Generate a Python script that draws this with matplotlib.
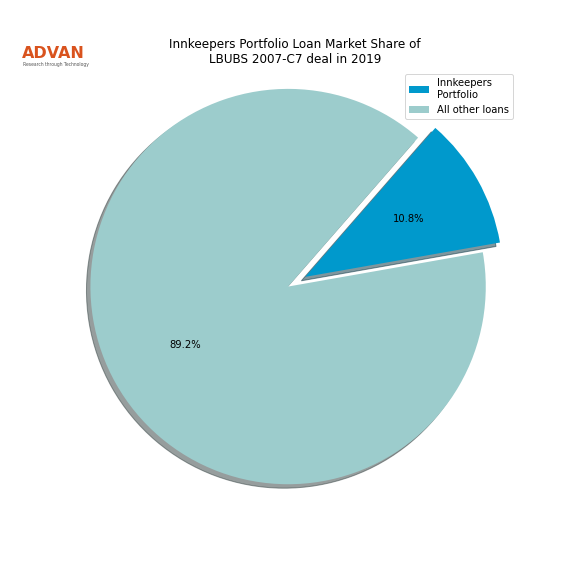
import matplotlib.pyplot as plt

labels = ["Innkeepers\nPortfolio", "All other loans"]
shares = [10.8, 89.2]
colors = ["#0099cc", "#9ccccc"]
explode = [0.1, 0]

fig, ax = plt.subplots(figsize=(8, 8), dpi=72)
wedges, texts, autotexts = ax.pie(shares, explode=explode, colors=colors,
                                  autopct="%1.1f%%", shadow=True, startangle=10)
ax.set_title("Innkeepers Portfolio Loan Market Share of\nLBUBS 2007-C7 deal in 2019", fontsize=12)
ax.axis("equal")

# logo
fig.text(0.038, 0.9, "ADVAN", color="#d9531e", fontsize=16, fontweight="semibold")
fig.text(0.04, 0.886, "Research through Technology", color="#555555", fontsize=4.5)

plt.subplots_adjust(left=0.135, right=0.89, top=0.88, bottom=0.125)
fig.legend(wedges, labels, loc="upper right", fontsize=10, bbox_to_anchor=(0.9, 0.88))
plt.savefig("out.png")
